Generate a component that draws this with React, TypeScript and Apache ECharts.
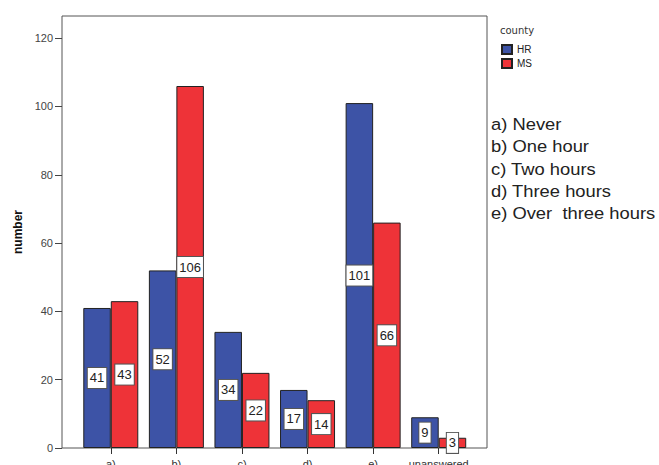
import React, { useEffect, useRef } from "react";
import * as echarts from "echarts";

// Hours spent per day, by county
const categories = ["a)", "b)", "c)", "d)", "e)", "unanswered"];
const hrValues = [41, 52, 34, 17, 101, 9];
const msValues = [43, 106, 22, 14, 66, 3];
const seriesNames = ["HR", "MS"];
const yTicks = [0, 20, 40, 60, 80, 100, 120];
const keyLines = [
  "a) Never",
  "b) One hour",
  "c) Two hours",
  "d) Three hours",
  "e) Over  three hours",
];

const BLUE = "#3d53a6";
const RED = "#ee3338";
const FONT = "Liberation Sans, Arial, sans-serif";
const Y_MAX = 126.5;

export default function App() {
  const ref = useRef<HTMLDivElement>(null);

  useEffect(() => {
    if (!ref.current) return;
    const chart = echarts.init(ref.current, undefined, { renderer: "svg" });

    const barLabel = {
      show: true,
      position: "inside",
      formatter: "{c}",
      color: "#222",
      fontFamily: FONT,
      fontSize: 13,
      backgroundColor: "#fff",
      borderColor: "#555",
      borderWidth: 1,
      padding: [4, 2, 3, 2],
    };

    chart.setOption({
      animation: false,
      backgroundColor: "#fff",
      textStyle: { fontFamily: FONT },
      grid: [
        // frame and value scale
        {
          left: 62,
          right: 172,
          top: 16,
          bottom: 17,
          show: true,
          borderColor: "#555",
          borderWidth: 1,
          backgroundColor: "transparent",
          outerBoundsMode: "none",
        },
        // bars, inset from the frame
        {
          left: 78,
          right: 187.5,
          top: 16,
          bottom: 17,
          outerBoundsMode: "none",
        },
      ],
      xAxis: [
        { gridIndex: 0, type: "value", min: 0, max: 1, show: false },
        {
          gridIndex: 1,
          type: "category",
          data: categories,
          axisLine: { show: false },
          axisTick: {
            show: true,
            alignWithLabel: true,
            length: 6,
            lineStyle: { color: "#333" },
          },
          axisLabel: { color: "#333", fontSize: 11, margin: 10, interval: 0 },
        },
      ],
      yAxis: [
        {
          gridIndex: 0,
          type: "value",
          min: 0,
          max: Y_MAX,
          name: "number",
          nameLocation: "middle",
          nameGap: 38,
          nameTextStyle: { fontWeight: "bold", fontSize: 12, color: "#111" },
          axisLine: { show: false },
          axisTick: {
            show: true,
            length: 7,
            customValues: yTicks,
            lineStyle: { color: "#444" },
          },
          axisLabel: {
            customValues: yTicks,
            color: "#444",
            fontSize: 11,
            margin: 9,
          },
          splitLine: { show: false },
        },
        { gridIndex: 1, type: "value", min: 0, max: Y_MAX, show: false },
      ],
      legend: {
        data: seriesNames,
        orient: "vertical",
        left: 501,
        top: 44,
        padding: 0,
        itemWidth: 10,
        itemHeight: 9,
        itemGap: 3,
        icon: "rect",
        textStyle: { fontSize: 10, color: "#222", fontFamily: FONT },
      },
      series: [
        {
          name: seriesNames[0],
          type: "bar",
          xAxisIndex: 1,
          yAxisIndex: 1,
          data: hrValues,
          barWidth: 27.5,
          barGap: "0%",
          itemStyle: {
            color: BLUE,
            borderColor: "#222",
            borderWidth: 1,
            borderRadius: 0,
          },
          label: barLabel,
        },
        {
          name: seriesNames[1],
          type: "bar",
          xAxisIndex: 1,
          yAxisIndex: 1,
          data: msValues,
          barWidth: 27.5,
          barGap: "0%",
          itemStyle: {
            color: RED,
            borderColor: "#222",
            borderWidth: 1,
            borderRadius: 0,
          },
          label: barLabel,
        },
      ],
      graphic: [
        {
          type: "text",
          left: 500,
          top: 25,
          style: {
            text: "county",
            fontFamily: "DejaVu Sans, sans-serif",
            fontSize: 10,
            fill: "#333",
          },
        },
        {
          type: "text",
          x: 491,
          y: 113,
          scaleX: 1.08,
          style: {
            text: keyLines.join("\n"),
            fontFamily: FONT,
            fontSize: 17,
            lineHeight: 22.3,
            fill: "#222",
          },
        },
      ],
    });

    return () => chart.dispose();
  }, []);

  return (
    <div
      ref={ref}
      style={{ position: "fixed", left: 0, top: 0, width: 659, height: 465 }}
    />
  );
}
